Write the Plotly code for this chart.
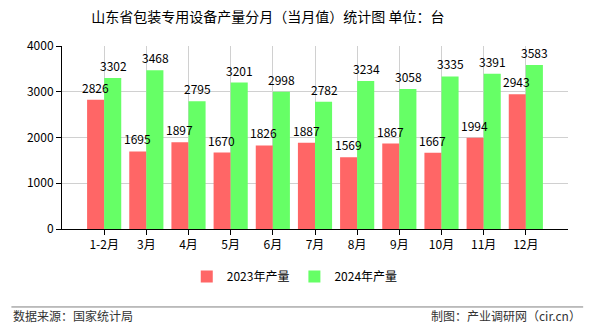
import plotly.graph_objects as go

categories = ["1-2月", "3月", "4月", "5月", "6月", "7月", "8月", "9月", "10月", "11月", "12月"]
values_2023 = [2826, 1695, 1897, 1670, 1826, 1887, 1569, 1867, 1667, 1994, 2943]
values_2024 = [3302, 3468, 2795, 3201, 2998, 2782, 3234, 3058, 3335, 3391, 3583]
series_names = ["2023年产量", "2024年产量"]
title_text = "山东省包装专用设备产量分月（当月值）统计图 单位：台"
source_text = "数据来源：国家统计局"
maker_text = "制图：产业调研网（cir.cn）"

FONT = "Noto Sans CJK SC"
fig = go.Figure()
fig.add_trace(go.Bar(x=categories, y=values_2023, name=series_names[0],
                     marker=dict(color="#FF6666", line=dict(width=0))))
fig.add_trace(go.Bar(x=categories, y=values_2024, name=series_names[1],
                     marker=dict(color="#66FF66", line=dict(width=0))))

annotations = []
for shift, vals in ((-9, values_2023), (9, values_2024)):
    for c, v in zip(categories, vals):
        annotations.append(dict(x=c, y=v, xref="x", yref="y", text=str(v), showarrow=False,
                                xanchor="center", yanchor="bottom", xshift=shift, yshift=2,
                                font=dict(size=12, color="#000", family=FONT)))
annotations += [
    dict(text=source_text, xref="paper", yref="paper", x=-0.1, y=-0.475,
         xanchor="left", yanchor="middle", showarrow=False, font=dict(size=12, color="#333")),
    dict(text=maker_text, xref="paper", yref="paper", x=1.03, y=-0.475,
         xanchor="right", yanchor="middle", showarrow=False, font=dict(size=12, color="#333")),
]

fig.update_layout(
    width=590, height=330,
    margin=dict(l=62, r=22, t=46, b=101),
    paper_bgcolor="white", plot_bgcolor="white",
    barmode="group", bargap=0.19, bargroupgap=0,
    font=dict(family=FONT, size=12, color="#000"),
    title=dict(text=title_text, xref="container", x=0.454, xanchor="center", y=0.947, yanchor="middle",
               font=dict(size=14, family=FONT, color="#000")),
    legend=dict(orientation="h", x=0.46, xanchor="center", y=-0.18, yanchor="top",
                font=dict(size=12, family=FONT), itemwidth=30),
    xaxis=dict(range=[-1, 11], showline=True, linecolor="#000", linewidth=1,
               ticks="outside", ticklen=5, tickcolor="#000",
               showgrid=True, gridcolor="#d0d0d0", gridwidth=1,
               tickfont=dict(size=12, family=FONT)),
    yaxis=dict(range=[0, 4000], dtick=1000, showline=True, linecolor="#000", linewidth=1,
               ticks="outside", ticklen=5, tickcolor="#000",
               showgrid=True, gridcolor="#d0d0d0", gridwidth=1, zeroline=False,
               tickfont=dict(size=12, family=FONT)),
    shapes=[dict(type="line", xref="paper", yref="paper", x0=-0.1, x1=1.03,
                 y0=-0.426, y1=-0.426, line=dict(color="#808080", width=1))],
    annotations=annotations,
)
fig.write_html("out.html")
